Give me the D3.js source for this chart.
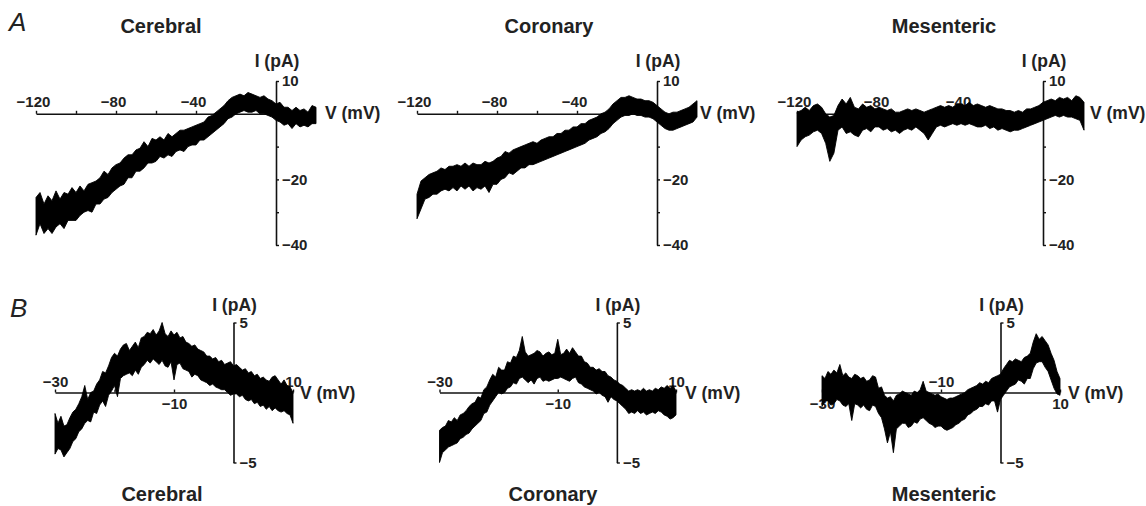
<!DOCTYPE html>
<html>
<head>
<meta charset="utf-8">
<script src="https://cdn.jsdelivr.net/npm/d3@7"></script>
<style>
  body { margin: 0; background: #fff; }
  text { fill: #222; }
</style>
</head>
<body>
<div id="chart-container"></div>
<script>
// ---- Data ----

// A: ramp from -120 to +20 mV, sampled every 2 mV; hi / lo = upper and lower edge of the noisy trace (pA)
var voltsA = [-120,-118,-116,-114,-112,-110,-108,-106,-104,-102,-100,-98,-96,-94,-92,-90,-88,-86,-84,-82,
  -80,-78,-76,-74,-72,-70,-68,-66,-64,-62,-60,-58,-56,-54,-52,-50,-48,-46,-44,-42,
  -40,-38,-36,-34,-32,-30,-28,-26,-24,-22,-20,-18,-16,-14,-12,-10,-8,-6,-4,-2,
  0,2,4,6,8,10,12,14,16,18,20];

var cerebralA_hi = [-25.5,-24,-27.5,-25,-26.5,-23.5,-26,-24,-24.5,-22.5, -24,-22,-23.5,-21.5,-21,-20.5,-19.5,-17.5,-18.5,-16.5,
  -15.5,-15,-13.5,-12.5,-12.5,-11,-10.5,-8.5,-10,-7.5, -8,-7,-8,-6,-7,-6,-5,-5,-4.5,-4,
  -3.5,-3,-2.5,-1,-0.5,0.5,1.5,2.5,4,5, 5.5,6,5.5,6.5,6,5.5,5,5.5,4.5,4, 3,3.5,2,2,1,2,1,1.5,0.5,2.5, 2];
var cerebralA_lo = [-37,-33.5,-36.5,-35,-36.5,-34.5,-33.5,-35,-32.5,-32.5, -32.5,-31,-30,-29.5,-30,-27.5,-27.5,-26,-25.5,-24,
  -23,-22,-21.5,-19.5,-19.5,-17.5,-17.5,-16.5,-15,-15, -14.5,-13,-13.5,-12.5,-13,-11.5,-11,-11.5,-10,-9.5,
  -9.5,-8,-8,-7,-6,-5,-4,-3,-1.5,-1, 0,0.5,1,0.5,0.5,1,0,0,-0.5,-1, -2,-2.5,-3.5,-3,-4.5,-3,-4,-3.5,-4,-3, -3];

var coronaryA_hi = [-24.5,-20.5,-19.5,-18.5,-18,-17.5,-16.5,-17,-16,-16, -15.5,-16,-15,-16,-15,-15.5,-15.5,-14.5,-15,-14.5,
  -13.5,-13,-11.5,-12,-11,-10.5,-10,-9.5,-9,-8.5, -9,-8,-7.5,-7,-7,-6,-6,-5,-5,-4,
  -4,-3,-3,-2,-1.5,-1,0,0.5,1.5,3, 4,5,5,5.5,5,4.5,4.5,4,4,3.5, 2.5,1.5,0.5,0,0.5,0.5,1,1.5,2,3, 4];
var coronaryA_lo = [-32,-29,-26,-25.5,-24.5,-24.5,-23.5,-23,-23.5,-22.5, -23.5,-22,-23,-22,-23.5,-22.5,-23,-22,-24,-21.5,
  -21.5,-20,-19.5,-18,-18.5,-17.5,-16.5,-16.5,-15.5,-15.5, -15,-14.5,-14,-13.5,-13,-12.5,-12,-11.5,-11,-10.5,
  -10,-9.5,-9,-8,-7.5,-7,-6,-5.5,-4.5,-3, -2,-1,-0.5,-0.5,0,-0.5,-0.5,-1,-1,-1.5, -2.5,-3.5,-4.5,-5,-5,-4.5,-4,-3.5,-3,-2.5, -1];

var mesentericA_hi = [0.5,1,2,1,2.5,3,2,0,-1,-0.5, 2.5,4.5,3,5,2,1.5,3,2,2.5,1.5,
  2,1.5,1,1.5,0.5,0.5,1,1.5,1,1.5, 1,0.5,1,1.5,2,2.5,2,2.5,2,3,
  3,2.5,3.5,2.5,3,2.5,2,2.5,2,1.5, 1.5,1,1,0.5,1,0.5,1.5,1.5,2,2.5, 3.5,4,4.5,4,5,4.5,5,4,5.5,5, 3.5];
var mesentericA_lo = [-10,-8,-7,-6.5,-5.5,-5,-6,-9,-14.5,-12, -5,-4,-6,-5.5,-6.5,-7,-5,-4.5,-5.5,-4,
  -4,-5,-4.5,-5.5,-5,-6,-5,-4.5,-5,-4, -5,-6,-8,-6,-4,-3.5,-4,-3.5,-3,-3.5,
  -3,-3.5,-3,-3.5,-4,-4,-3.5,-4.5,-4,-5, -4.5,-5,-5.5,-5,-5,-4.5,-4,-3.5,-3,-2.5, -2,-1.5,-1,-0.5,-1,-0.5,-1,-1,-1.5,-2, -5];

// B: ramp from -30 to +10 mV, sampled every 0.5 mV
var voltsB = [-30,-29.5,-29,-28.5,-28,-27.5,-27,-26.5,-26,-25.5,-25,-24.5,-24,-23.5,-23,-22.5,-22,-21.5,-21,-20.5,
  -20,-19.5,-19,-18.5,-18,-17.5,-17,-16.5,-16,-15.5,-15,-14.5,-14,-13.5,-13,-12.5,-12,-11.5,-11,-10.5,
  -10,-9.5,-9,-8.5,-8,-7.5,-7,-6.5,-6,-5.5,-5,-4.5,-4,-3.5,-3,-2.5,-2,-1.5,-1,-0.5,
  0,0.5,1,1.5,2,2.5,3,3.5,4,4.5,5,5.5,6,6.5,7,7.5,8,8.5,9,9.5,10];

var cerebralB_hi = [-1.5,-2.2,-1.7,-2.4,-2.3,-1.8,-1.4,-1.2,-0.8,-0.3, 0.5,-0.5,0.0,0.1,0.6,0.9,1.5,1.4,1.9,2.5,
  2.8,2.6,3.1,3.4,3.5,3.0,3.3,3.6,3.2,3.9, 4.0,4.3,4.2,4.5,4.1,4.4,5.0,4.2,4.0,4.4,
  4.1,4.3,3.9,4.0,3.6,3.5,3.3,3.4,3.1,3.0, 2.9,2.6,2.6,2.4,2.5,2.2,2.3,2.0,2.1,2.2,
  1.9,2.0,1.8,1.6,1.7,1.4,1.5,1.2,1.3,1.0, 1.1,0.9,0.8,1.1,1.2,0.9,0.6,0.9,0.5,0.4, 0.0];
var cerebralB_lo = [-4.4,-4.0,-4.1,-4.6,-4.3,-4.0,-3.5,-3.3,-2.8,-2.6, -2.2,-2.0,-2.1,-1.4,-1.5,-0.9,-0.6,-1.0,-0.2,0.1,
  0.5,-0.3,1.0,1.2,1.3,1.4,1.2,1.6,1.3,1.8, 2.0,2.3,2.1,2.4,2.2,2.0,2.3,1.9,1.8,2.2,
  0.9,2.0,2.1,1.7,1.6,1.5,1.1,1.3,1.2,0.9, 0.8,0.7,0.5,0.6,0.4,0.3,0.2,0.2,0.0,-0.2,
  -0.1,-0.1,-0.3,-0.2,-0.5,-0.6,-0.5,-0.8,-0.7,-1.0, -0.9,-1.2,-1.0,-1.3,-1.1,-1.3,-1.4,-1.3,-1.5,-1.6, -2.2];

var coronaryB_hi = [-2.7,-2.5,-2.4,-2.0,-2.1,-1.8,-2.0,-1.6,-1.5,-1.3, -1.0,-0.8,-0.7,-0.3,-0.4,0.2,0.4,0.9,1.3,1.1,
  1.8,1.6,1.6,2.2,2.1,2.6,2.5,3.0,4.0,2.9, 2.6,2.7,2.8,3.0,2.9,2.6,2.8,2.9,2.7,2.8,
  3.8,2.7,2.8,3.1,2.8,3.2,2.9,2.6,2.6,2.2, 2.1,1.8,1.8,1.6,1.7,1.5,1.5,1.2,1.1,0.9,
  0.8,0.6,0.5,0.3,0.1,0.2,0.1,0.2,0.1,0.3, 0.1,0.2,0.1,0.3,0.2,0.4,0.3,0.5,0.3,0.5, 0.1];
var coronaryB_lo = [-5.0,-4.3,-4.1,-3.9,-3.8,-3.7,-3.6,-3.3,-3.2,-3.0, -2.9,-2.6,-2.4,-2.2,-2.0,-1.5,-1.4,-0.9,-0.6,-0.3,
  0.0,-0.1,0.0,0.3,0.4,0.7,0.6,1.0,1.1,0.9, 0.7,0.9,0.6,1.0,1.1,0.8,0.9,0.8,0.9,1.0,
  1.0,1.1,1.0,0.9,0.8,1.0,1.1,0.7,0.6,0.4, 0.3,0.2,0.1,-0.1,0.0,-0.2,-0.3,-0.7,-0.3,-0.5,
  -0.6,-0.8,-1.0,-1.2,-1.5,-1.4,-1.5,-1.3,-1.5,-1.4, -1.6,-1.5,-1.4,-1.5,-1.3,-1.4,-1.6,-1.7,-1.9,-1.8, -1.6];

var mesentericB_hi = [1.2,1.0,1.5,1.3,1.6,1.4,2.0,1.2,1.4,1.1, 1.0,1.3,1.2,1.0,1.1,0.8,0.9,1.2,1.1,0.3,
  0.4,-0.2,-0.4,-0.3,-0.6,-0.2,-0.1,0.1,0.0,-0.1, -0.2,0.1,0.0,0.2,0.8,0.1,0.0,-0.1,-0.2,-0.1,
  -0.3,-0.4,-0.5,-0.4,-0.4,-0.3,-0.2,-0.1,0.0,0.2, 0.3,0.4,0.5,0.7,0.6,0.8,0.7,1.0,1.1,1.2,
  1.3,1.7,2.0,2.3,2.2,2.4,2.3,2.2,2.5,2.6, 2.8,3.6,4.2,3.8,4.0,3.7,3.4,2.8,2.3,1.5, 1.0];
var mesentericB_lo = [-1.0,-0.6,-0.6,-0.9,-0.8,-0.5,-0.6,-0.9,-1.0,-0.8, -2.0,-0.8,-0.9,-1.1,-0.9,-1.2,-1.3,-0.9,-1.0,-1.5,
  -1.8,-2.6,-3.6,-2.8,-4.3,-2.6,-2.4,-2.2,-2.2,-2.5, -2.4,-2.1,-2.2,-1.9,-1.8,-2.0,-2.2,-2.3,-2.5,-2.4,
  -2.4,-2.6,-2.7,-2.6,-2.5,-2.3,-2.2,-2.0,-1.9,-1.6, -1.5,-1.3,-1.2,-1.0,-1.0,-0.8,-0.9,-0.6,-0.6,-1.4,
  -0.5,-0.2,0.1,0.4,0.5,0.6,0.9,0.8,0.6,1.0, 1.0,1.7,2.1,2.2,2.2,1.8,1.5,0.9,0.3,-0.1, -0.2];

// tick values and which of them get a label
var ticksA_x = [-120,-100,-80,-60,-40,-20,0];
var labelsA_x = [-120,-80,-40];
var ticksA_y = [10,0,-10,-20,-30,-40];
var labelsA_y = [10,-20,-40];
var ticksB_x = [-30,-20,-10,0,10];
var ticksB_y = [5,-5];

var vessels = ["Cerebral", "Coronary", "Mesenteric"];

// ---- Layout ----
var svgWidth = 1146, svgHeight = 506;
var fontFamily = "'Liberation Sans', Arial, Helvetica, sans-serif";

var svg = d3.select("#chart-container")
  .append("svg")
    .attr("width", svgWidth)
    .attr("height", svgHeight);

// pixel placement of each panel (x range of the voltage axis, label spots)
var panelsA = [
  { name: vessels[0], hi: cerebralA_hi,   lo: cerebralA_lo,   xr: [36, 316],  titleX: 161, vLabelX: 325 },
  { name: vessels[1], hi: coronaryA_hi,   lo: coronaryA_lo,   xr: [417, 697], titleX: 549, vLabelX: 700 },
  { name: vessels[2], hi: mesentericA_hi, lo: mesentericA_lo, xr: [797, 1084], titleX: 944, vLabelX: 1090 }
];
var panelsB = [
  { name: vessels[0], hi: cerebralB_hi,   lo: cerebralB_lo,   xr: [55, 293],    titleX: 162, vLabelX: 300,  up: [-30,10], down: [-10] },
  { name: vessels[1], hi: coronaryB_hi,   lo: coronaryB_lo,   xr: [439.5, 676], titleX: 553, vLabelX: 685,  up: [-30,10], down: [-10] },
  { name: vessels[2], hi: mesentericB_hi, lo: mesentericB_lo, xr: [822, 1060],  titleX: 944, vLabelX: 1068, up: [-10],    down: [-30,10] }
];

var fmt = d3.format("d");

function styleAxis(g) {
  g.attr("font-family", fontFamily)
   .attr("font-size", 15)
   .attr("font-weight", "bold");
  g.select(".domain").attr("stroke", "#111").attr("stroke-width", 1.6);
  g.selectAll(".tick line").attr("stroke", "#111").attr("stroke-width", 1.4);
  g.selectAll(".tick text").attr("fill", "#222");
}

function drawPanel(p, volts, row) {
  var x = d3.scaleLinear().domain(row.xDomain).range(p.xr);
  var y = d3.scaleLinear().domain(row.yDomain).range(row.yRange);
  var g = svg.append("g");

  // voltage axis (row A only spans up to 0 mV)
  var xAxisScale = d3.scaleLinear().domain(row.axisDomain).range(row.axisDomain.map(x));
  var xTop = g.append("g")
    .attr("transform", "translate(0," + y(0) + ")")
    .call(d3.axisTop(xAxisScale)
      .tickValues(row.xTicks)
      .tickSize(3).tickSizeOuter(0).tickPadding(row.xPad)
      .tickFormat(function(d) { return (p.up || row.xLabels).indexOf(d) >= 0 ? fmt(d) : ""; }));
  styleAxis(xTop);
  xTop.selectAll(".tick text").attr("dx", function(d) { return row.shiftNeg && d < 0 ? -3 : 0; });

  if (p.down) {
    var xBottom = g.append("g")
      .attr("transform", "translate(0," + y(0) + ")")
      .call(d3.axisBottom(xAxisScale)
        .tickValues(p.down)
        .tickSize(0).tickSizeOuter(0).tickPadding(6)
        .tickFormat(fmt));
    styleAxis(xBottom);
    xBottom.select(".domain").remove();
  }

  // current axis at 0 mV, ticks and labels to the right
  var yAx = g.append("g")
    .attr("transform", "translate(" + x(0) + ",0)")
    .call(d3.axisRight(y)
      .tickValues(row.yTicks)
      .tickSize(3).tickSizeOuter(0).tickPadding(3)
      .tickFormat(function(d) { return row.yLabels.indexOf(d) >= 0 ? fmt(d) : ""; }));
  styleAxis(yAx);

  // axis names
  g.append("text")
    .attr("x", x(0) + 1).attr("y", row.iLabelY)
    .attr("text-anchor", "middle")
    .attr("font-family", fontFamily).attr("font-size", 17.5).attr("font-weight", "bold")
    .text("I (pA)");
  g.append("text")
    .attr("x", p.vLabelX).attr("y", row.vLabelY)
    .attr("font-family", fontFamily).attr("font-size", 17.5).attr("font-weight", "bold")
    .text("V (mV)");

  // vessel name
  g.append("text")
    .attr("x", p.titleX).attr("y", row.titleY)
    .attr("text-anchor", "middle")
    .attr("font-family", fontFamily).attr("font-size", 20).attr("font-weight", "bold")
    .text(p.name);

  // noisy current trace: band between lower and upper edge
  var trace = volts.map(function(v, i) { return { v: v, hi: p.hi[i], lo: p.lo[i] }; });
  g.append("path")
    .datum(trace)
    .attr("d", d3.area()
      .x(function(d) { return x(d.v); })
      .y0(function(d) { return y(d.lo); })
      .y1(function(d) { return y(d.hi); }))
    .attr("fill", "#000")
    .attr("stroke", "#000")
    .attr("stroke-width", 0.9)
    .attr("stroke-linejoin", "miter")
    .attr("stroke-miterlimit", 4);
}

var rowA = {
  xDomain: [-120, 20], axisDomain: [-120, 0], yDomain: [-40, 10], yRange: [245, 81],
  xTicks: ticksA_x, xLabels: labelsA_x, yTicks: ticksA_y, yLabels: labelsA_y,
  xPad: 4, shiftNeg: true, iLabelY: 67, vLabelY: 119, titleY: 33
};
var rowB = {
  xDomain: [-30, 10], axisDomain: [-30, 10], yDomain: [-5, 5], yRange: [462.5, 322.5],
  xTicks: ticksB_x, xLabels: [], yTicks: ticksB_y, yLabels: ticksB_y,
  xPad: 3, shiftNeg: false, iLabelY: 311, vLabelY: 399, titleY: 501
};

panelsA.forEach(function(p) { drawPanel(p, voltsA, rowA); });
panelsB.forEach(function(p) { drawPanel(p, voltsB, rowB); });

// panel letters
svg.append("text").attr("x", 9).attr("y", 31)
  .attr("font-family", fontFamily).attr("font-size", 26).attr("font-style", "italic")
  .text("A");
svg.append("text").attr("x", 10).attr("y", 317)
  .attr("font-family", fontFamily).attr("font-size", 26).attr("font-style", "italic")
  .text("B");
</script>
</body>
</html>
